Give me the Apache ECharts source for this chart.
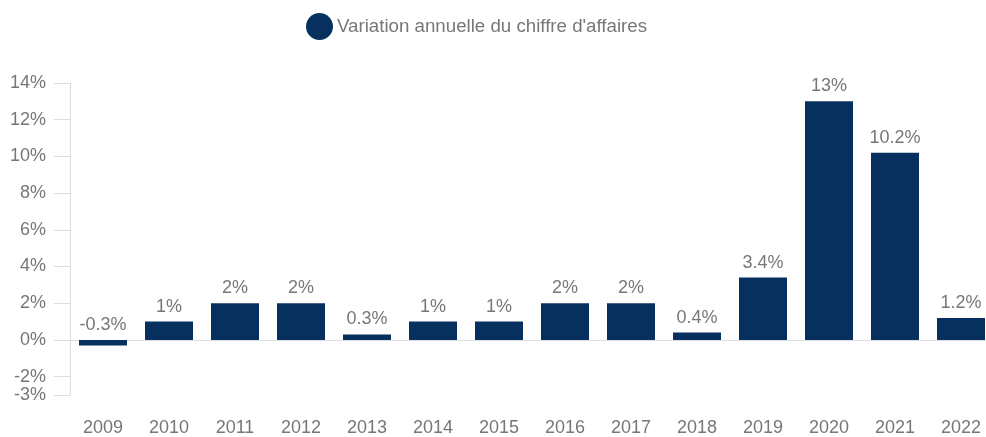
<!DOCTYPE html>
<html><head><meta charset="utf-8">
<script src="https://cdn.jsdelivr.net/npm/echarts@6/dist/echarts.min.js"></script>
<style>html,body{margin:0;padding:0;background:#fff}#c{width:986px;height:437px}</style>
</head><body><div id="c"></div>
<script>
const categories = ['2009','2010','2011','2012','2013','2014','2015','2016','2017','2018','2019','2020','2021','2022'];
const values = [-0.3, 1, 2, 2, 0.3, 1, 1, 2, 2, 0.4, 3.4, 13, 10.2, 1.2];
const yTicks = [-3, -2, 0, 2, 4, 6, 8, 10, 12, 14];
const seriesName = "Variation annuelle du chiffre d'affaires";

const font = 'Liberation Sans';
const chart = echarts.init(document.getElementById('c'));
chart.setOption({
  animation: false,
  textStyle: { fontFamily: font },
  legend: {
    top: 8, left: 301,
    icon: 'circle', itemWidth: 27, itemHeight: 27, itemGap: 6,
    textStyle: { fontSize: 18.7, color: '#777', fontFamily: font, padding: [0, 0, 0, -1] },
    data: [seriesName]
  },
  grid: { left: 70, top: 83, width: 924, bottom: 42, containLabel: false, outerBoundsMode: 'none' },
  xAxis: {
    type: 'category', data: categories,
    axisLine: { lineStyle: { color: '#ddd' } },
    axisTick: { length: 15, lineStyle: { color: '#ddd' } },
    axisLabel: { fontSize: 18, color: '#777', margin: 24, fontFamily: font }
  },
  yAxis: {
    type: 'value', min: -3, max: 14,
    splitLine: { show: false },
    axisLine: { show: true, lineStyle: { color: '#ddd' } },
    axisTick: { show: true, length: 16, lineStyle: { color: '#ddd' }, customValues: yTicks },
    axisLabel: { fontSize: 18, color: '#777', margin: 24, fontFamily: font, customValues: yTicks, formatter: v => v + '%' }
  },
  series: [{
    name: seriesName, type: 'bar', data: values,
    barWidth: 48,
    itemStyle: { color: '#07305f' },
    label: { show: true, position: 'top', distance: 6, fontSize: 18, color: '#777', fontFamily: font, formatter: p => p.value + '%' }
  }]
});
</script></body></html>
